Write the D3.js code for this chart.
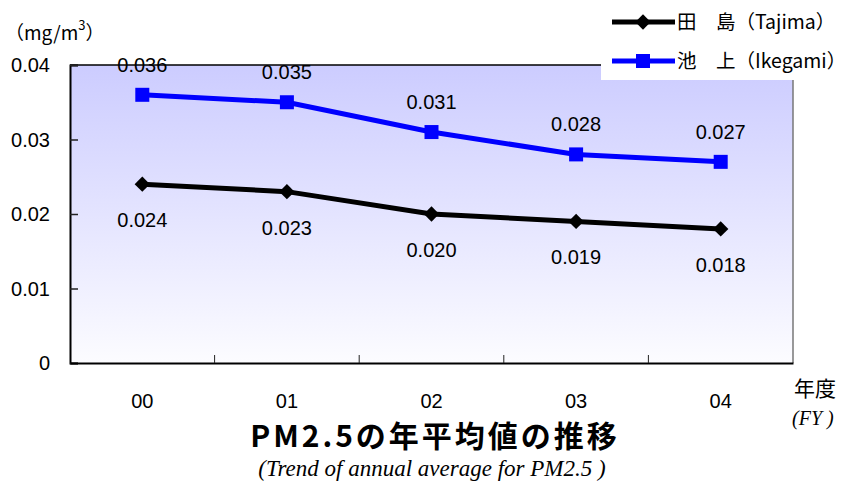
<!DOCTYPE html>
<html lang="ja">
  <head>
    <meta charset="UTF-8" />
    <title>PM2.5</title>
    <script src="https://d3js.org/d3.v7.min.js"></script>
    <style>
      body { margin: 0; background: #fff; }
      text { font-family: "Liberation Sans", Arial, "Noto Sans CJK JP", sans-serif; }
      .jp { font-family: "Noto Sans CJK JP", sans-serif; }
      .serif { font-family: "Liberation Serif", "Times New Roman", serif; font-style: italic; }
    </style>
  </head>
  <body>
    <svg width="848" height="483"></svg>
    <script>
      const years = ["00", "01", "02", "03", "04"];
      const tajima = [0.024, 0.023, 0.020, 0.019, 0.018];
      const ikegami = [0.036, 0.035, 0.031, 0.028, 0.027];
      const yTicks = [0, 0.01, 0.02, 0.03, 0.04];
      const yTickLabels = ["0", "0.01", "0.02", "0.03", "0.04"];

      const svg = d3.select("svg");
      const plotL = 70, plotR = 793, plotT = 65, plotB = 363;

      const x = d3.scaleBand().domain(years).range([plotL, plotR]);
      const y = d3.scaleLinear().domain([0, 0.04]).range([plotB, plotT]);

      // background gradient
      const grad = svg.append("defs").append("linearGradient")
        .attr("id", "bg").attr("x1", 0).attr("y1", 0).attr("x2", 0).attr("y2", 1);
      grad.append("stop").attr("offset", "0%").attr("stop-color", "#ccccff");
      grad.append("stop").attr("offset", "100%").attr("stop-color", "#fcfcff");

      svg.append("rect")
        .attr("x", plotL).attr("y", plotT)
        .attr("width", plotR - plotL).attr("height", plotB - plotT)
        .attr("fill", "url(#bg)");

      // frame
      svg.append("line").attr("x1", plotL).attr("x2", plotR).attr("y1", plotT).attr("y2", plotT)
        .attr("stroke", "#000").attr("stroke-width", 1.5);
      svg.append("line").attr("x1", plotR).attr("x2", plotR).attr("y1", plotT).attr("y2", plotB)
        .attr("stroke", "#777").attr("stroke-width", 1.5);

      // y axis
      const yAxis = svg.append("g").attr("transform", `translate(${plotL},0)`)
        .call(d3.axisRight(y).tickValues(yTicks).tickSize(8).tickFormat(""));
      yAxis.select(".domain").attr("stroke", "#000").attr("stroke-width", 2);
      yAxis.selectAll(".tick line").attr("stroke", "#222").attr("stroke-width", 1.5);
      svg.selectAll(".ylab").data(yTicks).join("text")
        .attr("x", 50).attr("y", d => y(d) + 7)
        .attr("text-anchor", "end").attr("font-size", 20)
        .text((d, i) => yTickLabels[i]);

      // x axis
      const xAxis = svg.append("g").attr("transform", `translate(0,${plotB})`)
        .call(d3.axisTop(x).tickSize(0).tickFormat(""));
      xAxis.select(".domain").attr("stroke", "#000").attr("stroke-width", 2);
      svg.selectAll(".xtick").data(years.slice(1)).join("line")
        .attr("x1", d => x(d)).attr("x2", d => x(d))
        .attr("y1", plotB).attr("y2", plotB - 8)
        .attr("stroke", "#222").attr("stroke-width", 1);
      svg.selectAll(".xlab").data(years).join("text")
        .attr("x", d => x(d) + x.bandwidth() / 2).attr("y", 408)
        .attr("text-anchor", "middle").attr("font-size", 20)
        .text(d => d);

      const cx = d => x(d) + x.bandwidth() / 2;
      const line = d3.line().x((d, i) => cx(years[i])).y(d => y(d));

      // Tajima
      svg.append("path").datum(tajima).attr("d", line)
        .attr("fill", "none").attr("stroke", "#000").attr("stroke-width", 5);
      svg.selectAll(".dia").data(tajima).join("path")
        .attr("d", d3.symbol(d3.symbolDiamond2, 150))
        .attr("transform", (d, i) => `translate(${cx(years[i])},${y(d)})`)
        .attr("fill", "#000");
      svg.selectAll(".tlab").data(tajima).join("text")
        .attr("x", (d, i) => cx(years[i])).attr("y", d => y(d) + 43)
        .attr("text-anchor", "middle").attr("font-size", 20)
        .text(d => d.toFixed(3));

      // Ikegami
      svg.append("path").datum(ikegami).attr("d", line)
        .attr("fill", "none").attr("stroke", "#0000ff").attr("stroke-width", 5);
      svg.selectAll(".sq").data(ikegami).join("rect")
        .attr("x", (d, i) => cx(years[i]) - 7).attr("y", d => y(d) - 7)
        .attr("width", 14).attr("height", 14).attr("fill", "#0000ff");
      svg.selectAll(".ilab").data(ikegami).join("text")
        .attr("x", (d, i) => cx(years[i])).attr("y", d => y(d) - 23)
        .attr("text-anchor", "middle").attr("font-size", 20)
        .text(d => d.toFixed(3));

      // legend
      svg.append("rect").attr("x", 601).attr("y", 0).attr("width", 247).attr("height", 80).attr("fill", "#fff");
      const legend = [
        { name: "田　島（Tajima）", color: "#000", ly: 22, shape: "diamond" },
        { name: "池　上（Ikegami）", color: "#0000ff", ly: 61, shape: "square" }
      ];
      legend.forEach(l => {
        svg.append("line").attr("x1", 612).attr("x2", 675).attr("y1", l.ly).attr("y2", l.ly)
          .attr("stroke", l.color).attr("stroke-width", 5);
        if (l.shape === "diamond") {
          svg.append("path").attr("d", d3.symbol(d3.symbolDiamond2, 150))
            .attr("transform", `translate(643,${l.ly})`).attr("fill", l.color);
        } else {
          svg.append("rect").attr("x", 636).attr("y", l.ly - 7).attr("width", 14).attr("height", 14).attr("fill", l.color);
        }
        svg.append("text").attr("class", "jp").attr("x", 677).attr("y", l.ly + 7)
          .attr("font-size", 19.5).text(l.name);
      });

      // unit label
      const unit = svg.append("text").attr("class", "jp").attr("x", 5).attr("y", 40).attr("font-size", 19);
      unit.append("tspan").text("（mg/m");
      unit.append("tspan").attr("font-size", 13).attr("dy", -10).text("3");
      unit.append("tspan").attr("dy", 10).text("）");

      // FY label
      svg.append("text").attr("class", "jp").attr("x", 794).attr("y", 396).attr("font-size", 21).text("年度");
      svg.append("text").attr("class", "serif").attr("x", 792).attr("y", 425).attr("font-size", 20).text("(FY )");

      // titles
      svg.append("text").attr("class", "jp").attr("x", 435).attr("y", 447)
        .attr("text-anchor", "middle").attr("font-size", 30).attr("font-weight", "bold")
        .attr("letter-spacing", 3).text("PM2.5の年平均値の推移");
      svg.append("text").attr("class", "serif").attr("x", 432).attr("y", 476)
        .attr("text-anchor", "middle").attr("font-size", 23)
        .text("(Trend of annual average for PM2.5 )");
    </script>
  </body>
</html>
